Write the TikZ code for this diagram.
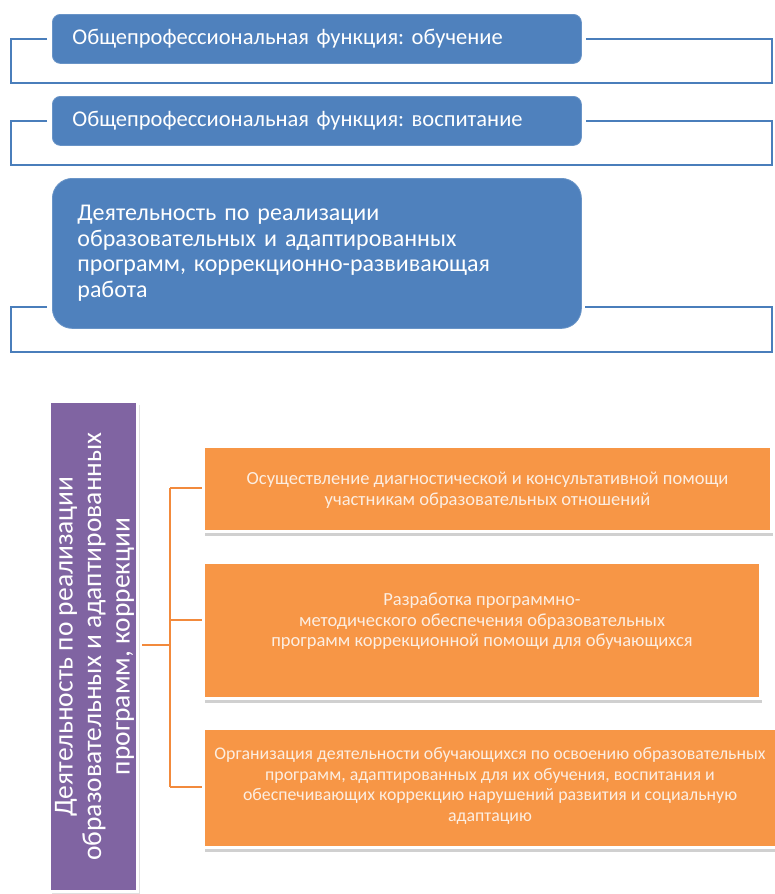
\documentclass[tikz,border=0pt]{standalone}
\usepackage{fontspec}
\setmainfont{Carlito}
\frenchspacing
\usetikzlibrary{shadows}
\definecolor{bluefill}{HTML}{4F81BD}
\definecolor{blueline}{HTML}{4A7EBB}
\definecolor{orangefill}{HTML}{F79646}
\definecolor{orangeline}{HTML}{F28A3C}
\definecolor{purplefill}{HTML}{8064A2}
\definecolor{orangetext}{HTML}{FCEEE2}
\begin{document}
\begin{tikzpicture}[x=1pt,y=-1pt,
  bluebox/.style={rectangle, rounded corners=8pt, fill=bluefill, draw=bluefill!85!white, line width=0.8pt,
     text=white, anchor=north west, align=left, inner xsep=20pt, inner ysep=0pt,
     font=\fontsize{22.5}{26}\selectfont},
  bline/.style={draw=blueline, line width=2.6pt},
  oline/.style={draw=orangeline, line width=2.2pt},
  obox/.style={rectangle, fill=orangefill, draw=white, line width=3pt, anchor=north west,
     inner sep=0pt, drop shadow={shadow xshift=1pt, shadow yshift=-4pt, fill=black!60, opacity=0.3}},
  otext/.style={text=orangetext, align=center, font=\fontsize{18.5}{20.5}\selectfont, inner sep=0pt},
  pbox/.style={rectangle, fill=purplefill, draw=white, line width=3pt, anchor=north west,
     inner sep=0pt, drop shadow={shadow xshift=2pt, shadow yshift=-3pt, fill=black!60, opacity=0.2}},
  ptext/.style={text=white, align=center, rotate=90, font=\fontsize{27.5}{28.5}\selectfont, inner sep=0pt}
]
\clip (0,0) rectangle (775,894);
\fill[white] (0,0) rectangle (775,894);

% ---- top blue section ----
\node[bluebox, minimum width=529pt, minimum height=49pt, text width=489pt] (b1) at (52,14)
  {Общепрофессиональная функция: обучение};
\node[bluebox, minimum width=529pt, minimum height=49pt, text width=489pt] (b2) at (52,96)
  {Общепрофессиональная функция: воспитание};
\node[bluebox, rounded corners=20pt, minimum width=529pt, minimum height=150pt, text width=479pt,
      inner xsep=25pt, font=\fontsize{24}{25.5}\selectfont] (b3) at (52,178)
  {Деятельность по реализации\\образовательных и адаптированных\\программ, коррекционно-развивающая\\работа};

\coordinate (b1bl) at (11,83);  \coordinate (b1br) at (772,83);
\coordinate (b2bl) at (11,165); \coordinate (b2br) at (772,165);
\coordinate (b3l) at (47,307);  \coordinate (b3r) at (585,307);
\coordinate (b3bl) at (11,352); \coordinate (b3br) at (772,352);

\draw[bline] ([xshift=-5pt]b1.west) -| (b1bl) -- (b1br) |- ([xshift=4pt]b1.east);
\draw[bline] ([xshift=-5pt]b2.west) -| (b2bl) -- (b2br) |- ([xshift=4pt]b2.east);
\draw[bline] (b3l) -| (b3bl) -- (b3br) |- (b3r);

% ---- bottom section ----
\node[pbox, minimum width=88pt, minimum height=490pt] (p) at (48,400) {};
\node[ptext] (pt) at ([xshift=1pt]p.center)
  {Деятельность по реализации\\образовательных и адаптированных\\программ, коррекции};

\node[obox, minimum width=568pt, minimum height=85pt] (o1) at (202,445) {};
\node[obox, minimum width=557pt, minimum height=136pt] (o2) at (202,561) {};
\node[obox, minimum width=582pt, minimum height=119pt] (o3) at (202,727) {};

\node[otext] (t1) at ([yshift=-1pt]o1.center)
  {Осуществление диагностической и консультативной помощи\\участникам образовательных отношений};
\node[otext] (t2) at ([yshift=9pt]o2.center)
  {Разработка программно-\\методического обеспечения образовательных\\программ коррекционной помощи для обучающихся};
\node[otext, font=\fontsize{17.8}{20.5}\selectfont] (t3) at (490,786)
  {Организация деятельности обучающихся по освоению образовательных\\программ, адаптированных для их обучения, воспитания и\\обеспечивающих коррекцию нарушений развития и социальную\\адаптацию};

\coordinate (j0) at (170,645);
\coordinate (j1) at (170,488);
\coordinate (j2) at (170,620);
\coordinate (j3) at (170,787);
\draw[oline] ([xshift=3pt]p.east |- j0) -- (j0);
\draw[oline] (j1) -- (j3);
\draw[oline] (j1) -- (o1.west |- j1);
\draw[oline] (j2) -- (o2.west |- j2);
\draw[oline] (j3) -- (o3.west |- j3);
\end{tikzpicture}
\end{document}
